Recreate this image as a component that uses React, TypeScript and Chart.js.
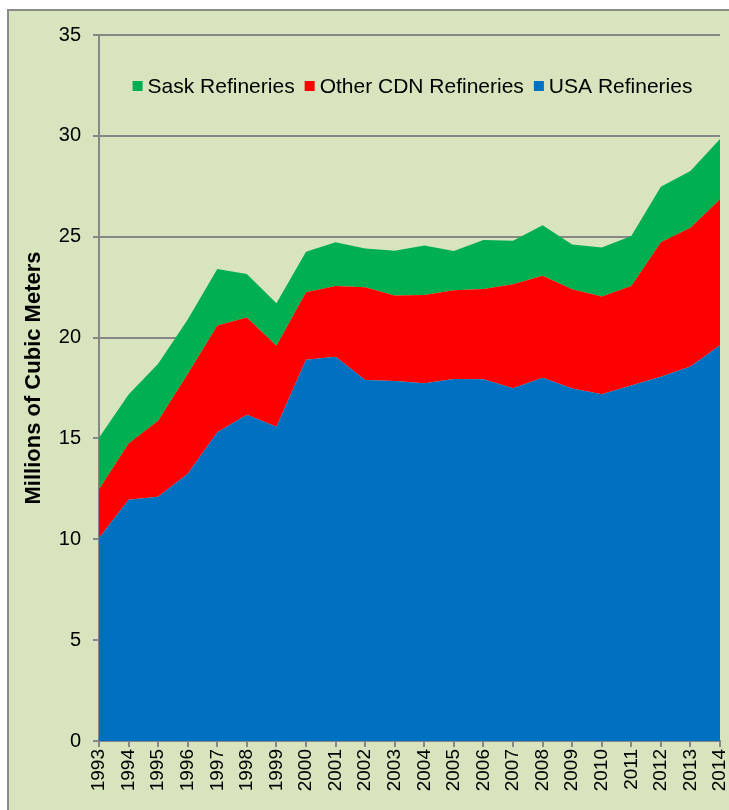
import React, { useEffect, useRef } from "react";
import { Chart, registerables } from "chart.js";

Chart.register(...registerables);

const years = ["1993","1994","1995","1996","1997","1998","1999","2000","2001","2002","2003","2004","2005","2006","2007","2008","2009","2010","2011","2012","2013","2014"];
const usaRefineries = [10.06, 11.96, 12.11, 13.25, 15.31, 16.18, 15.58, 18.9, 19.05, 17.9, 17.85, 17.73, 17.95, 17.93, 17.49, 18.01, 17.47, 17.19, 17.62, 18.06, 18.56, 19.62];
const otherCdnRefineries = [2.42, 2.79, 3.77, 4.95, 5.29, 4.82, 4.02, 3.35, 3.51, 4.6, 4.23, 4.38, 4.39, 4.48, 5.15, 5.06, 4.92, 4.84, 4.94, 6.66, 6.89, 7.24];
const saskRefineries = [2.55, 2.43, 2.82, 2.7, 2.8, 2.15, 2.1, 2.01, 2.16, 1.92, 2.22, 2.45, 1.95, 2.43, 2.16, 2.5, 2.23, 2.43, 2.48, 2.76, 2.81, 2.99];
const yTicks = { min: 0, max: 35, step: 5 };
const yTitle = "Millions of Cubic Meters";

const FONT = "'Liberation Sans', Arial, sans-serif";
const GRID = "#878787";

const insideLegend = {
  id: "insideLegend",
  afterDatasetsDraw(chart: any) {
    const { ctx, chartArea } = chart;
    const items = [...chart.data.datasets].reverse();
    ctx.save();
    ctx.font = `21px ${FONT}`;
    ctx.textBaseline = "middle";
    const box = 10, gapBox = 5, gapItem = 10;
    const widths = items.map((d: any) => ctx.measureText(d.label).width);
    const total = widths.reduce((a: number, w: number) => a + box + gapBox + w, 0) + gapItem * (items.length - 1);
    let x = (chartArea.left + chartArea.right) / 2 - total / 2 + 3;
    const y = chartArea.top + 51;
    items.forEach((d: any, i: number) => {
      ctx.fillStyle = d.backgroundColor;
      ctx.fillRect(x, y - box / 2, box, box);
      x += box + gapBox;
      ctx.fillStyle = "#000";
      ctx.fillText(d.label, x, y + 1);
      x += widths[i] + gapItem;
    });
    ctx.restore();
  },
};

const axisTitle = {
  id: "axisTitle",
  afterDraw(chart: any) {
    const { ctx, chartArea } = chart;
    ctx.save();
    ctx.font = `bold 22px ${FONT}`;
    ctx.fillStyle = "#000";
    ctx.textAlign = "center";
    ctx.textBaseline = "middle";
    ctx.translate(25, (chartArea.top + chartArea.bottom) / 2 - 10);
    ctx.rotate(-Math.PI / 2);
    ctx.fillText(yTitle, 0, 0);
    ctx.restore();
  },
};

export default function App() {
  const ref = useRef<HTMLCanvasElement>(null);
  useEffect(() => {
    if (!ref.current) return;
    Chart.defaults.font.family = FONT;
    Chart.defaults.color = "#000";
    const chart = new Chart(ref.current, {
      type: "line",
      data: {
        labels: years,
        datasets: [
          { label: "USA Refineries", data: usaRefineries, backgroundColor: "#0070C0", borderColor: "#0070C0", borderWidth: 0, pointRadius: 0, fill: "origin" },
          { label: "Other CDN Refineries", data: otherCdnRefineries, backgroundColor: "#FF0000", borderColor: "#FF0000", borderWidth: 0, pointRadius: 0, fill: "-1" },
          { label: "Sask Refineries", data: saskRefineries, backgroundColor: "#00B050", borderColor: "#00B050", borderWidth: 0, pointRadius: 0, fill: "-1" },
        ],
      },
      options: {
        animation: false,
        responsive: false,
        layout: { padding: { top: 24, right: 9, left: 0, bottom: 0 } },
        plugins: { legend: { display: false }, tooltip: { enabled: false } },
        scales: {
          x: {
            offset: false,
            grid: { drawOnChartArea: false, drawTicks: true, tickLength: 6, color: GRID, lineWidth: 2 },
            border: { display: true, color: GRID, width: 2 },
            ticks: { minRotation: 90, maxRotation: 90, autoSkip: false, padding: 2, font: { size: 19 } },
            afterFit: (s: any) => { s.height = 69; s.paddingRight = 0; s.paddingLeft = 0; },
          },
          y: {
            stacked: true,
            min: yTicks.min,
            max: yTicks.max,
            grid: { color: GRID, lineWidth: 2, tickLength: 6 },
            border: { display: true, color: GRID, width: 2 },
            ticks: { stepSize: yTicks.step, padding: 12, font: { size: 20 } },
            afterFit: (s: any) => { s.width = 90; s.paddingTop = 0; s.paddingBottom = 0; },
          },
        },
      },
      plugins: [insideLegend, axisTitle],
    });
    return () => chart.destroy();
  }, []);
  return (
    <div
      style={{
        position: "fixed",
        left: 7,
        top: 9,
        width: 722,
        height: 801,
        background: "#D7E4BD",
        borderTop: "2px solid #8a8a8a",
        borderLeft: "2px solid #8a8a8a",
        boxSizing: "border-box",
      }}
    >
      <canvas ref={ref} width={720} height={799} style={{ display: "block" }} />
    </div>
  );
}
